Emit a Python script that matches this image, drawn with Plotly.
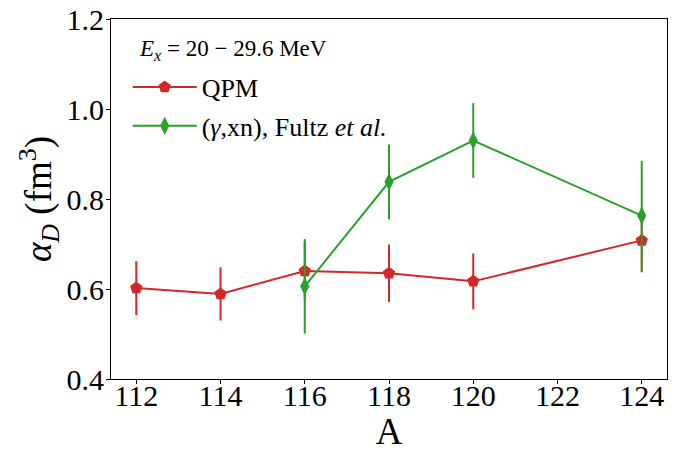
import plotly.graph_objects as go

# Data
A_qpm = [112, 114, 116, 118, 120, 124]
alpha_qpm = [0.602, 0.589, 0.640, 0.635, 0.617, 0.708]
err_qpm = [0.060, 0.059, 0.064, 0.064, 0.062, 0.071]

A_exp = [116, 118, 120, 124]
alpha_exp = [0.606, 0.838, 0.930, 0.763]
err_exp = [0.105, 0.083, 0.083, 0.122]

x_ticks = [112, 114, 116, 118, 120, 122, 124]
y_ticks = [0.4, 0.6, 0.8, 1.0, 1.2]

legend_title = "<i>E</i><sub><i>x</i></sub> = 20 − 29.6 MeV"

RED = "#d62728"
GREEN = "#2ca02c"
FONT = "Liberation Serif"

fig = go.Figure()
fig.add_trace(go.Scatter(
    x=A_qpm, y=alpha_qpm, mode="lines+markers", name="QPM",
    legendgroup="a",
    line=dict(color=RED, width=2),
    marker=dict(symbol="pentagon", size=13, color=RED),
    error_y=dict(type="data", array=err_qpm, color=RED, thickness=2, width=0),
))
fig.add_trace(go.Scatter(
    x=A_exp, y=alpha_exp, mode="lines+markers",
    name="(<i>γ</i>,xn), Fultz <i>et al.</i>",
    legendgroup="b",
    line=dict(color=GREEN, width=2),
    marker=dict(symbol="diamond-tall", size=13, color=GREEN),
    error_y=dict(type="data", array=err_exp, color=GREEN, thickness=2, width=0),
))

fig.add_annotation(
    text=legend_title, xref="paper", yref="paper",
    x=0.047, y=0.915, xanchor="left", yanchor="middle",
    showarrow=False, font=dict(family=FONT, size=23, color="black"),
)

fig.update_layout(
    width=689, height=452,
    margin=dict(l=111, r=22, t=19, b=73, autoexpand=False),
    paper_bgcolor="white", plot_bgcolor="white",
    font=dict(family=FONT, size=30, color="black"),
    showlegend=True,
    legend=dict(
        x=0.03, y=0.876, xanchor="left", yanchor="top",
        bgcolor="rgba(0,0,0,0)", borderwidth=0,
        font=dict(family=FONT, size=26, color="black"),
        tracegroupgap=2,
        itemwidth=64,
    ),
    xaxis=dict(
        range=[111.4, 124.6], tickmode="array", tickvals=x_ticks,
        ticks="outside", ticklen=4, tickwidth=1, tickcolor="black",
        showline=True, linecolor="black", linewidth=1, mirror=True,
        showgrid=False, zeroline=False, automargin=True,
        ticklabelstandoff=-14,
        tickfont=dict(family=FONT, size=30),
        title=dict(text="A", font=dict(family=FONT, size=37), standoff=4),
    ),
    yaxis=dict(
        range=[0.4, 1.2], tickmode="array", tickvals=y_ticks,
        tickformat=".1f",
        ticks="outside", ticklen=4, tickwidth=1, tickcolor="black",
        showline=True, linecolor="black", linewidth=1, mirror=True,
        showgrid=False, zeroline=False, automargin=True,
        ticklabelstandoff=-4,
        tickfont=dict(family=FONT, size=30),
        title=dict(text="<i>α</i><sub><i>D</i></sub> (fm<sup>3</sup>)",
                   font=dict(family=FONT, size=37), standoff=3),
    ),
)

fig.write_html("out.html")
